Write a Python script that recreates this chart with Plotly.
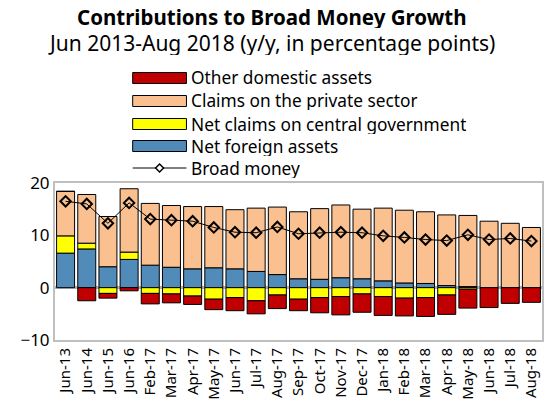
import plotly.graph_objects as go

months = ["Jun-13", "Jun-14", "Jun-15", "Jun-16", "Feb-17", "Mar-17", "Apr-17", "May-17",
          "Jun-17", "Jul-17", "Aug-17", "Sep-17", "Oct-17", "Nov-17", "Dec-17", "Jan-18",
          "Feb-18", "Mar-18", "Apr-18", "May-18", "Jun-18", "Jul-18", "Aug-18"]

net_foreign = [6.6, 7.4, 4.0, 5.4, 4.3, 3.9, 3.6, 3.8, 3.6, 3.1, 2.5, 1.7, 1.6, 1.9, 1.7, 1.3,
               0.9, 0.8, 0.4, 0.2, 0.0, 0.0, 0.0]
central_gov = [3.3, 1.1, -1.1, 1.4, -1.1, -1.2, -1.6, -2.2, -1.9, -2.5, -1.4, -2.2, -1.9, -1.7,
               -1.2, -1.7, -2.0, -1.9, -1.4, -0.3, 0.0, 0.0, 0.0]
private_sector = [8.5, 9.3, 9.6, 12.1, 11.8, 11.8, 11.9, 11.7, 11.3, 12.1, 12.9, 12.8, 13.5,
                  13.9, 13.3, 13.9, 13.9, 13.7, 13.5, 13.6, 12.7, 12.3, 11.5]
other_domestic = [0.0, -2.5, -0.9, -0.6, -2.0, -1.7, -1.6, -2.0, -2.5, -2.5, -2.6, -2.2, -2.9,
                  -3.5, -3.5, -3.6, -3.4, -3.6, -3.7, -3.6, -3.8, -3.0, -2.8]
broad_money = [16.5, 16.0, 12.3, 16.2, 13.1, 12.9, 12.7, 11.5, 10.6, 10.5, 11.6, 10.3, 10.5,
               10.6, 10.5, 9.9, 9.6, 9.2, 9.0, 10.1, 9.2, 9.4, 8.9]

legend_names = ["Other domestic assets", "Claims on the private sector",
                "Net claims on central government", "Net foreign assets", "Broad money"]

FONT = "Noto Sans"
RED, PEACH, YELLOW, BLUE = "#c00000", "#fac090", "#ffff00", "#4f8ab8"
outline = dict(color="black", width=1)

fig = go.Figure()
fig.add_trace(go.Bar(x=months, y=net_foreign, name=legend_names[3],
                     marker=dict(color=BLUE, line=outline,
                                 pattern=dict(shape="x", size=3, solidity=0.15,
                                              fgcolor="#6b9ec4", fillmode="overlay"))))
fig.add_trace(go.Bar(x=months, y=central_gov, name=legend_names[2],
                     marker=dict(color=YELLOW, line=outline)))
fig.add_trace(go.Bar(x=months, y=private_sector, name=legend_names[1],
                     marker=dict(color=PEACH, line=outline)))
fig.add_trace(go.Bar(x=months, y=other_domestic, name=legend_names[0],
                     marker=dict(color=RED, line=outline)))
fig.add_trace(go.Scatter(x=months, y=broad_money, name=legend_names[4],
                         mode="lines+markers", line=dict(color="black", width=1),
                         marker=dict(symbol="diamond-open", size=8, color="black",
                                     line=dict(width=2, color="black"))))

# hand-drawn legend (wide swatches like the original)
PW, PH, L, B = 489, 157, 55, 340  # plot area size / position in pixels
def px(x):
    return (x - L) / PW
def py(y):
    return (B - y) / PH

shapes, annos = [], []
rows = [78, 101, 124, 146, 168]
for name, color, ry in zip(legend_names[:4], [RED, PEACH, YELLOW, BLUE], rows):
    shapes.append(dict(type="rect", xref="paper", yref="paper", x0=px(133), x1=px(187),
                       y0=py(ry + 5.5), y1=py(ry - 5.5), fillcolor=color,
                       line=dict(color="black", width=1)))
for name, ry in zip(legend_names, rows):
    annos.append(dict(text=name, x=px(190), y=py(ry), xref="paper", yref="paper",
                      showarrow=False, xanchor="left", yanchor="middle", height=19,
                      font=dict(size=17.3)))
ly = rows[4]
shapes.append(dict(type="line", xref="paper", yref="paper", x0=px(133), x1=px(187),
                   y0=py(ly), y1=py(ly), line=dict(color="black", width=1)))
shapes.append(dict(type="path", xref="paper", yref="paper",
                   path=f"M {px(156)} {py(ly)} L {px(160)} {py(ly - 4)} L {px(164)} {py(ly)} "
                        f"L {px(160)} {py(ly + 4)} Z",
                   fillcolor="white", line=dict(color="black", width=1.5)))

annos += [
    dict(text="<b>Contributions to Broad Money Growth</b>", x=px(272.5), y=py(17),
         xref="paper", yref="paper", showarrow=False, font=dict(size=20.5), height=22,
         xanchor="center", yanchor="middle"),
    dict(text="Jun 2013-Aug 2018 (y/y, in percentage points)", x=px(272.5), y=py(43),
         xref="paper", yref="paper", showarrow=False, font=dict(size=21), height=24,
         xanchor="center", yanchor="middle"),
]

fig.update_layout(
    width=545, height=407,
    barmode="relative", bargap=0.15,
    plot_bgcolor="white", paper_bgcolor="white",
    font=dict(family=FONT, size=15, color="black"),
    margin=dict(l=L, r=1, t=183, b=67),
    showlegend=False,
    shapes=shapes, annotations=annos,
)
fig.update_xaxes(tickangle=-90, tickfont=dict(size=15), showline=True, mirror=True,
                 linecolor="#bfbfbf", linewidth=2, ticks="", range=[-0.5, 22.5])
fig.update_yaxes(range=[-10, 20], dtick=10, showgrid=False, zeroline=True,
                 zerolinecolor="#b0b0b0", zerolinewidth=3, showline=True, mirror=True,
                 linecolor="#bfbfbf", linewidth=2, ticks="", tickfont=dict(size=17))

fig.write_html("out.html", config={"displayModeBar": False},
               post_script="document.body.style.margin='0';document.body.style.overflow='hidden';")
